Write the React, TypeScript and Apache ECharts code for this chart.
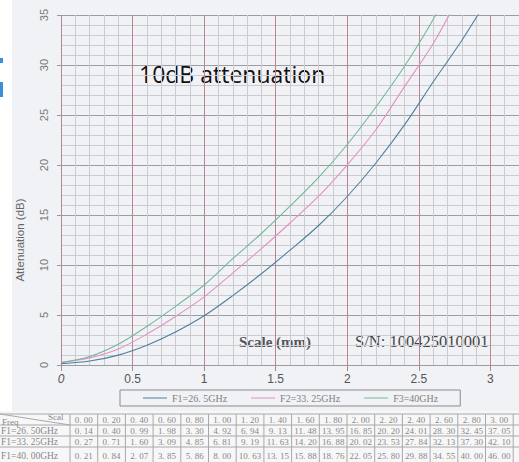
import React, { useEffect, useRef } from "react";
import * as echarts from "echarts";

const scale = [0, 0.2, 0.4, 0.6, 0.8, 1.0, 1.2, 1.4, 1.6, 1.8, 2.0, 2.2, 2.4, 2.6, 2.8, 3.0];
const f1 = [0.14, 0.4, 0.99, 1.98, 3.3, 4.92, 6.94, 9.13, 11.48, 13.95, 16.85, 20.2, 24.01, 28.3, 32.45, 37.05];
const f2 = [0.27, 0.71, 1.6, 3.09, 4.85, 6.81, 9.19, 11.63, 14.2, 16.88, 20.02, 23.53, 27.84, 32.13, 37.3, 42.1];
const f3 = [0.21, 0.84, 2.07, 3.85, 5.86, 8.0, 10.63, 13.15, 15.88, 18.76, 22.05, 25.8, 29.88, 34.55, 40.0, 46.0];
const seriesNames = ["F1=26. 5GHz", "F2=33. 25GHz", "F3=40GHz"];
const rowLabels = ["F1=26. 50GHz", "F1=33. 25GHz", "F1=40. 00GHz"];
const colors = ["#4f7f9e", "#e391c2", "#72b89c"];

const fmt = (v: number) => v.toFixed(2).replace(".", ". ");

export default function App() {
  const ref = useRef<HTMLDivElement>(null);
  useEffect(() => {
    if (!ref.current) return;
    const chart = echarts.init(ref.current, null, { renderer: "svg" });
    const serif = "Liberation Serif";
    const sans = "Liberation Sans";

    const colX0 = 70;
    const colW = 27.7;
    const rowLines = [414, 425, 436, 447, 468];
    const rowCenters = [420, 431, 442, 456];
    const tableEls: any[] = [];
    tableEls.push({ type: "rect", shape: { x: 0, y: 411, width: 519, height: 51 }, style: { fill: "#f7f7f8" }, silent: true });
    rowLines.forEach((y) => {
      tableEls.push({ type: "line", shape: { x1: 0, y1: y, x2: 519, y2: y }, style: { stroke: "#a8a8ac", lineWidth: 1 } });
    });
    for (let i = 0; i <= scale.length; i++) {
      const x = colX0 + i * colW;
      tableEls.push({ type: "line", shape: { x1: x, y1: rowLines[0], x2: x, y2: 462 }, style: { stroke: "#a8a8ac", lineWidth: 1 } });
    }
    tableEls.push({ type: "line", shape: { x1: 0, y1: 414, x2: 70, y2: 425 }, style: { stroke: "#a8a8ac", lineWidth: 1 } });
    tableEls.push({ type: "text", x: 2, y: 422, style: { text: "Freq", fontFamily: serif, fontSize: 9, fill: "#888", verticalAlign: "middle" } });
    tableEls.push({ type: "text", x: 48, y: 417, style: { text: "Scal", fontFamily: serif, fontSize: 9, fill: "#888", verticalAlign: "middle" } });
    scale.forEach((s, i) => {
      tableEls.push({ type: "text", x: colX0 + i * colW + colW / 2, y: rowCenters[0], style: { text: fmt(s), fontFamily: serif, fontSize: 9, fill: "#888", align: "center", verticalAlign: "middle" } });
    });
    [f1, f2, f3].forEach((arr, r) => {
      tableEls.push({ type: "text", x: 1, y: rowCenters[r + 1], style: { text: rowLabels[r], fontFamily: serif, fontSize: 9.5, fill: "#888", verticalAlign: "middle" } });
      arr.forEach((v, i) => {
        tableEls.push({ type: "text", x: colX0 + i * colW + colW / 2, y: rowCenters[r + 1], style: { text: fmt(v), fontFamily: serif, fontSize: 9, fill: "#888", align: "center", verticalAlign: "middle" } });
      });
    });

    const option: any = {
      animation: false,
      backgroundColor: "#f1f2f6",
      grid: { left: 61, top: 15, width: 460.8, height: 350, show: false },
      legend: {
        data: seriesNames,
        left: 120,
        top: 390,
        icon: "rect",
        itemWidth: 24,
        itemHeight: 1,
        itemGap: 24,
        padding: [3, 22, 3, 23],
        borderColor: "#8a8a8e",
        borderWidth: 1,
        textStyle: { fontFamily: serif, fontSize: 10, color: "#808080" },
      },
      xAxis: [
        {
          type: "value", min: 0, max: 3.2, interval: 0.1, position: "bottom",
          axisLine: { show: false, onZero: false }, axisTick: { show: false }, axisLabel: { show: false },
          splitLine: { show: true, lineStyle: { color: "#cbcbd1", width: 1 } },
        },
        {
          type: "value", min: 0, max: 3.2, interval: 0.5, position: "bottom",
          axisLine: { show: false, onZero: false },
          axisTick: { show: true, length: 6, lineStyle: { color: "#b68391" } },
          axisLabel: {
            margin: 8, fontFamily: sans, fontSize: 12, color: "#555",
            showMaxLabel: false,
            formatter: (v: number) => {
              if (Math.abs(v * 2 - Math.round(v * 2)) > 1e-6) return "";
              return v === 0 ? "{i|0}" : String(v);
            },
            rich: { i: { fontStyle: "italic", fontFamily: sans, fontSize: 12, color: "#555" } },
          },
          splitLine: { show: true, lineStyle: { color: "#b98693", width: 1 } },
        },
      ],
      yAxis: [
        {
          type: "value", min: 0, max: 35, interval: 1,
          axisLine: { show: false }, axisTick: { show: false }, axisLabel: { show: false },
          splitLine: { show: true, lineStyle: { color: "#cbcbd1", width: 1 } },
        },
        {
          type: "value", min: 0, max: 35, interval: 5, position: "left",
          axisLine: { show: false },
          axisTick: { show: true, length: 4, lineStyle: { color: "#999" } },
          axisLabel: { rotate: 90, margin: 12, fontFamily: sans, fontSize: 11, color: "#777" },
          splitLine: { show: true, lineStyle: { color: "#9c9ca2", width: 1 } },
        },
      ],
      series: [f1, f2, f3].map((arr, k) => ({
        name: seriesNames[k],
        type: "line",
        xAxisIndex: 1,
        yAxisIndex: 1,
        data: scale.map((s, i) => [s, arr[i]]),
        smooth: 0.3,
        symbol: "none",
        showSymbol: false,
        lineStyle: { color: colors[k], width: 1.1 },
        itemStyle: { color: colors[k] },
        z: 5,
      })),
      graphic: [
        { type: "rect", shape: { x: 0, y: 0, width: 12, height: 411 }, style: { fill: "#ffffff" }, silent: true, z: -1 },
        { type: "rect", shape: { x: 0, y: 58, width: 3, height: 5 }, style: { fill: "#3b8fd8" } },
        { type: "rect", shape: { x: 0, y: 82, width: 3, height: 15 }, style: { fill: "#3b8fd8" } },
        { type: "text", x: 139, y: 74, style: { text: "10dB attenuation", fontFamily: "Open Sans", fontSize: 23, fill: "#111", verticalAlign: "middle" } },
        { type: "text", x: 239, y: 342, style: { text: "Scale (mm)", fontFamily: serif, fontSize: 15, fontWeight: "bold", fill: "#555", verticalAlign: "middle" } },
        { type: "text", x: 355, y: 341, style: { text: "S/N: 100425010001", fontFamily: serif, fontSize: 16.5, fill: "#444", verticalAlign: "middle" } },
        { type: "text", x: 20, y: 240, rotation: Math.PI / 2, style: { text: "Attenuation (dB)", fontFamily: sans, fontSize: 11.5, fill: "#666", align: "center", verticalAlign: "middle" } },
        ...tableEls,
      ],
    };
    chart.setOption(option);
    return () => chart.dispose();
  }, []);
  return <div ref={ref} style={{ position: "absolute", left: 0, top: 0, width: 519, height: 462 }} />;
}
